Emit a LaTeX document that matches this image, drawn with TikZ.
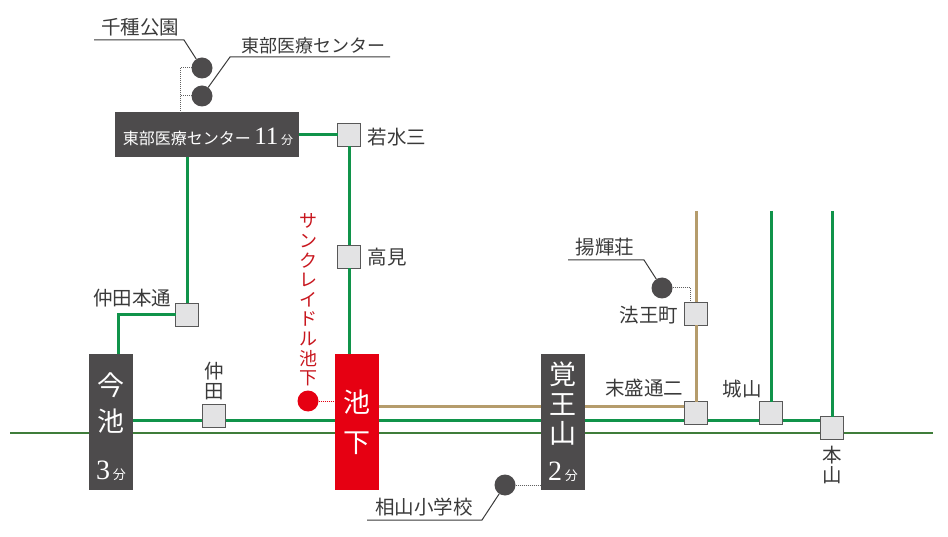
\documentclass[tikz,border=0pt]{standalone}
\usepackage{fontspec}
\setmainfont{Noto Sans CJK JP}
\newfontfamily\numfont{Liberation Serif}
\usetikzlibrary{backgrounds}
\definecolor{boxgray}{HTML}{4D4B4C}
\definecolor{ikered}{HTML}{E60012}
\definecolor{labelred}{HTML}{C8161E}
\definecolor{linegreen}{HTML}{10934A}
\definecolor{linedark}{HTML}{3F7D3A}
\definecolor{linetan}{HTML}{B59C6C}
\definecolor{stagray}{HTML}{E3E3E4}
\definecolor{inkgray}{HTML}{3A3A3A}
\newcommand{\fsize}[1]{\fontsize{#1}{#1}\selectfont}
\tikzset{
every node/.style={inner sep=0pt, outer sep=0pt},
station/.style={rectangle, draw=inkgray!85, fill=stagray, line width=1.2pt, minimum size=23pt},
stop/.style={rectangle, fill=boxgray, minimum width=44pt, minimum height=136pt},
dotmark/.style={circle, fill=boxgray, minimum size=21pt},
txt/.style={text=inkgray, align=center, font=\fsize{19.5}, execute at begin node={\baselineskip=20pt}},
boxtxt/.style={text=white, align=center, font=\fsize{27}, execute at begin node={\baselineskip=37pt}},
lead/.style={draw=inkgray, line width=1pt},
dots/.style={draw=inkgray!80, line width=1pt, densely dotted},
trackgreen/.style={linegreen, line width=3pt},
tracktan/.style={linetan, line width=3pt}
}
\begin{document}
\begin{tikzpicture}[x=1pt, y=-1pt]
\useasboundingbox (0,0) rectangle (948,537);
\node[stop, minimum width=184pt, minimum height=45pt] (tobu) at (207,135) {};
\node[stop] (imaike) at (111,422) {};
\node[stop, fill=ikered] (ikeshita) at (357,422) {};
\node[stop] (kakuozan) at (563,422) {};

\foreach \name/\x/\y in {wakamizu/349/135, takami/349/257, nakahon/187/315, nakata/214/416,
  houou/696/314, suemori/696/413, shiroyama/771/413, motoyama/832/428} {
\node[station] (\name) at (\x,\y) {};
}
\foreach \name/\x/\y in {chikusa/202/68, tobudot/202/96, yokidot/662/288, sugidot/505/485} {
\node[dotmark] (\name) at (\x,\y) {};
}
\node[dotmark, fill=ikered] (redot) at (308,401) {};

\foreach \name/\x/\y/\t in {chikusatxt/140/27/千種公園,
  wakatxt/397/137/若水三, takatxt/387/257/高見, nakahontxt/132/298/仲田本通,
  nakatxt/214/381/{仲\\田}, yokitxt/605/247/揚輝荘, houtxt/649/315/法王町,
  suetxt/644/388/末盛通二, shirotxt/742/389/城山, mototxt/832/465/{本\\山},
  sugitxt/424/507/相山小学校} {
\node[txt] (\name) at (\x,\y) {\t};
}
\node[txt, font=\fsize{18}] (tobutxt) at (313,46) {東部医療センター};
\node[txt, text=labelred, font=\fsize{18}, execute at begin node={\baselineskip=19.6pt}] (suntxt) at (308,300)
  {サ\\ン\\ク\\レ\\イ\\ド\\ル\\池\\下};

\node[boxtxt, font=\fsize{16}] (tobulab) at (208,137) {東部医療センター {\numfont\fsize{25}11}{\fsize{12} 分}};
\node[boxtxt, execute at begin node={\baselineskip=36pt}] (imalab) at (111,403) {今\\池};
\node[boxtxt, execute at begin node={\baselineskip=40pt}] (ikelab) at (357,422) {池\\下};
\node[boxtxt, execute at begin node={\baselineskip=29.5pt}] (kakulab) at (563,404) {覚\\王\\山};
\node[boxtxt] (imamin) at (111,471) {{\numfont\fsize{28}3}{\fsize{13} 分}};
\node[boxtxt] (kakumin) at (563,472) {{\numfont\fsize{28}2}{\fsize{13} 分}};

\coordinate (westend) at (10,433);
\coordinate (eastend) at (933,433);
\coordinate (greenend) at (832,420);
\coordinate (tanend) at (696,406);
\coordinate (tantop) at (696,211);
\coordinate (shirotop) at (771,211);
\coordinate (mototop) at (832,211);
\coordinate (chikusaend) at (94,40);
\coordinate (chikusabend) at (184,40);
\coordinate (tobuend) at (390,57);
\coordinate (tobubend) at (230,57);
\coordinate (yokiend) at (568,260);
\coordinate (yokibend) at (644,260);
\coordinate (sugiend) at (367,520);
\coordinate (sugibend) at (482,520);
\coordinate (tobudrop) at (180,113);
\coordinate (houdrop) at (690,303);

\begin{pgfonlayer}{background}
\draw[linedark, line width=2.2pt] (westend) -- (eastend);
\draw[trackgreen] (imaike.east |- greenend) -- (greenend);
\draw[tracktan] (ikeshita.east |- tanend) -- (tanend);
\end{pgfonlayer}

\draw[tracktan] (tantop) -- (houou) -- (suemori);
\draw[trackgreen] (shirotop) -- (shiroyama);
\draw[trackgreen] (mototop) -- (motoyama);
\draw[trackgreen] (tobu.east |- wakamizu) -- (wakamizu);
\draw[trackgreen] (wakamizu) -- (takami) -- (takami |- ikeshita.north);
\draw[trackgreen] (tobu.south -| nakahon) -- (nakahon);
\draw[trackgreen] (nakahon.west) -| ([xshift=7pt]imaike.north);

\draw[lead] (chikusaend) -- (chikusabend) -- (chikusa);
\draw[lead] (tobuend) -- (tobubend) -- (tobudot);
\draw[lead] (yokiend) -- (yokibend) -- (yokidot);
\draw[lead] (sugiend) -- (sugibend) -- (sugidot);

\draw[dots] (chikusa) -| (tobudrop);
\draw[dots] (tobudot) -- (tobudrop |- tobudot);
\draw[dots] (yokidot) -| (houdrop);
\draw[dots] (sugidot) -- (kakuozan.west |- sugidot);
\draw[dots, draw=ikered] (redot) -- (ikeshita.west |- redot);
\end{tikzpicture}
\end{document}
